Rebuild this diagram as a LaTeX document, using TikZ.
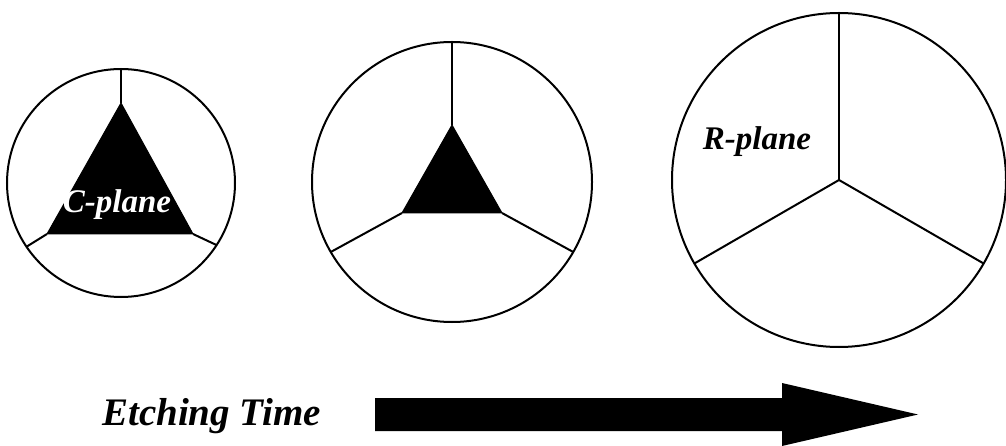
\documentclass[tikz,border=0pt]{standalone}
\usepackage{fontspec}
\setmainfont{Liberation Serif}
\usetikzlibrary{positioning}

\begin{document}
\begin{tikzpicture}[
  x=1pt, y=-1pt,
  wafer/.style={
    circle, draw, line width=2pt,
    inner sep=0pt, outer sep=0pt,
    minimum size=#1
  },
  spoke/.style={line width=2pt},
  facet/.style={fill=black, draw=black, line width=1pt, line join=miter},
  plane/.style={
    font=\fontsize{33}{36}\selectfont\bfseries\itshape,
    inner sep=0pt, anchor=base
  }]

\useasboundingbox (0,0) rectangle (1006,446);

% first stage: large C-plane facet
\node[wafer=228pt] (w1) at (121,183) {};
\coordinate (t1top) at (121,103);
\coordinate (t1left) at (47,234);
\coordinate (t1right) at (193,234);
\filldraw[facet] (t1top) -- (t1left) -- (t1right) -- cycle;
\draw[spoke] (t1top) -- (w1.90);
\draw[spoke] (t1left) -- (w1.214);
\draw[spoke] (t1right) -- (w1.327);
\node[plane, text=white] (c1label) at (117,213) {C-plane};

% second stage: C-plane shrinks
\node[wafer=280pt] (w2) at (452,182) {};
\coordinate (t2top) at (452,125);
\coordinate (t2left) at (402,213);
\coordinate (t2right) at (502,213);
\filldraw[facet] (t2top) -- (t2left) -- (t2right) -- cycle;
\draw[spoke] (t2top) -- (w2.90);
\draw[spoke] (t2left) -- (w2.210);
\draw[spoke] (t2right) -- (w2.330);

% third stage: only R-planes left
\node[wafer=334pt] (w3) at (839,180) {};
\draw[spoke, line width=2.6pt] (w3.center) -- (w3.90);
\draw[spoke] (w3.center) -- (w3.210);
\draw[spoke] (w3.center) -- (w3.330);
\node[plane] (r3label) at (757,150) {R-plane};

% time axis
\node[font=\fontsize{39}{42}\selectfont\bfseries\itshape,
  anchor=base west, inner sep=0pt] (timelabel) at (102,425) {Etching Time};
\coordinate (arrowtail) at (375,414.5);
\coordinate (arrowtip) at (918,414.5);
\fill (arrowtail) ++(0,-16.5) -- ++(407,0) -- ++(0,-15) -- (arrowtip)
  -- (782,446) -- ++(0,-15) -- (375,431) -- cycle;

\end{tikzpicture}
\end{document}
